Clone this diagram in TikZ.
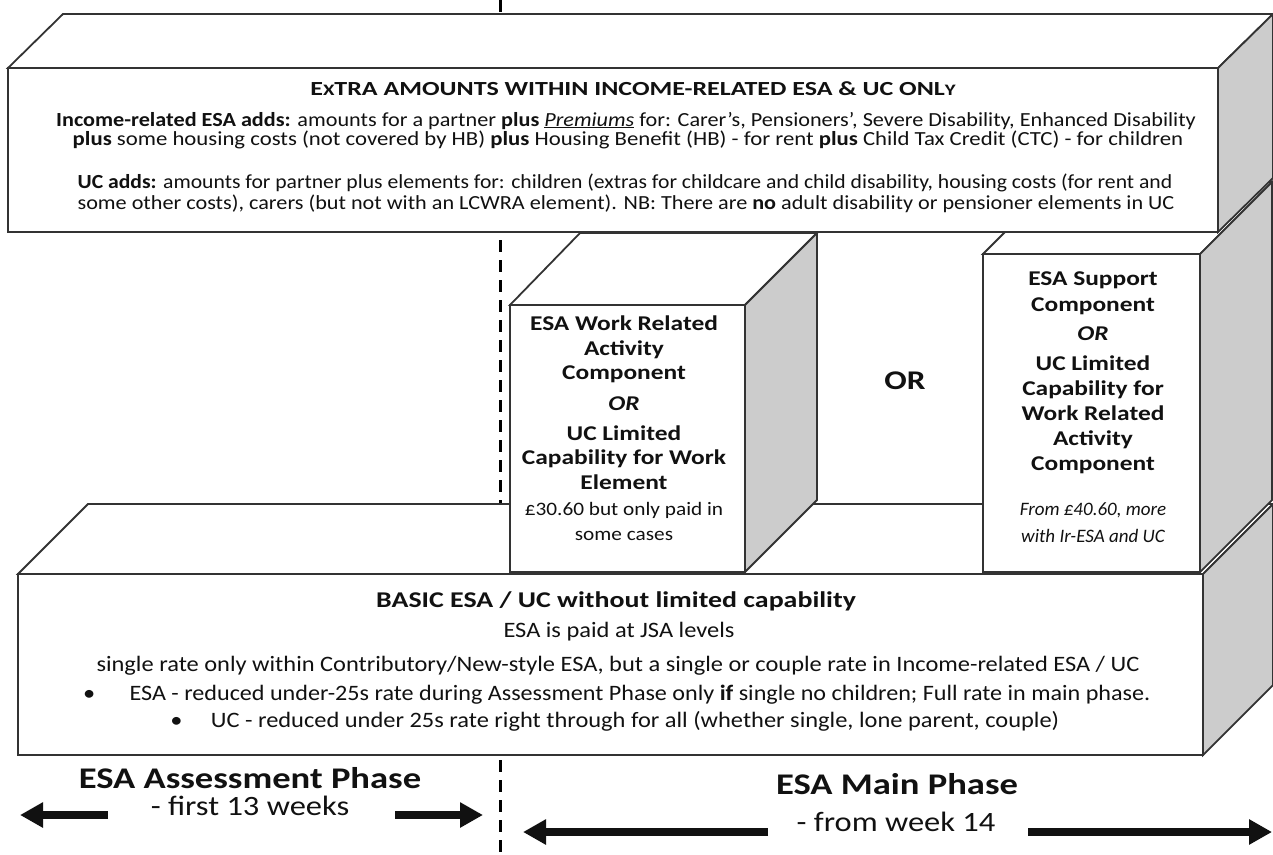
\documentclass[tikz,border=0pt]{standalone}
\usepackage{fontspec}
\setmainfont{Carlito}
\newfontfamily\fontBody{Carlito}[FakeStretch=1.11]
\newfontfamily\fontHead{Carlito}[FakeStretch=1.30]
\newfontfamily\fontBoxB{Carlito}[FakeStretch=1.21]
\newfontfamily\fontNote{Carlito}[FakeStretch=1.12]
\newfontfamily\fontItal{Carlito}[FakeStretch=1.00]
\newfontfamily\fontOr{Carlito}[FakeStretch=1.23]
\newfontfamily\fontBasic{Carlito}[FakeStretch=1.24]
\newfontfamily\fontBig{Carlito}[FakeStretch=1.22]
\newfontfamily\fontBigR{Carlito}[FakeStretch=1.16]
\usepackage{graphicx}
\usetikzlibrary{arrows.meta}
\definecolor{edge}{HTML}{333333}
\definecolor{sidegray}{HTML}{CCCCCC}
\definecolor{ink}{HTML}{111111}
\begin{document}
\begin{tikzpicture}[x=1pt,y=-1pt,
  face/.style={draw=edge, line width=1.8pt, fill=white, line join=miter},
  sideface/.style={draw=edge, line width=1.8pt, fill=sidegray, line join=miter},
  phaseline/.style={draw=black, dash pattern=on 12pt off 8pt, line width=3pt},
  bigarrow/.style={-{Triangle[length=23pt,width=24pt]}, line width=8pt, draw=ink},
  t/.style={inner sep=0pt, anchor=base, text=ink},
  topt/.style={t, font=\fontBody\fontsize{20}{24}\selectfont},
  hdrt/.style={t, font=\fontHead\fontsize{20}{24}\selectfont\bfseries},
  boxb/.style={t, font=\fontBoxB\fontsize{21}{25}\selectfont\bfseries},
  boxbi/.style={t, font=\fontBoxB\fontsize{21}{25}\selectfont\bfseries\itshape},
  boxs/.style={t, font=\fontNote\fontsize{19}{23}\selectfont},
  boxi/.style={t, font=\fontItal\fontsize{19}{23}\selectfont\itshape},
  bott/.style={t, font=\fontBody\fontsize{22}{26}\selectfont},
  basict/.style={t, font=\fontBasic\fontsize{22.5}{26}\selectfont\bfseries},
  bigb/.style={t, font=\fontBig\fontsize{30}{34}\selectfont\bfseries},
  bigr/.style={t, font=\fontBigR\fontsize{28}{32}\selectfont},
  ormid/.style={t, font=\fontOr\fontsize{27}{30}\selectfont\bfseries}
]
\useasboundingbox (0,0) rectangle (1273,854);
% phase divider
\coordinate (dtop) at (500,0);
\coordinate (dbot) at (500,854);
\draw[phaseline] (dtop) -- (dbot);

% bottom box
\draw[face] (18,574) -- (88,504) -- (1273,504) -- (1203,574) -- cycle;
\draw[sideface] (1203,574) -- (1273,504) -- (1273,685) -- (1203,755) -- cycle;
\draw[face] (18,574) rectangle (1203,755);

% WRAC box
\draw[face] (510,305) -- (580,233) -- (817,233) -- (745,305) -- cycle;
\draw[sideface] (745,305) -- (817,233) -- (817,500) -- (745,572) -- cycle;
\draw[face] (510,305) rectangle (745,572);

% Support box
\draw[face] (983,254) -- (1055,182) -- (1272,182) -- (1200,254) -- cycle;
\draw[sideface] (1200,254) -- (1272,182) -- (1272,500) -- (1200,572) -- cycle;
\draw[face] (983,254) rectangle (1200,572);

% top box
\draw[face] (8,68) -- (63,14) -- (1273,14) -- (1218,68) -- cycle;
\draw[sideface] (1218,68) -- (1273,14) -- (1273,178) -- (1218,232) -- cycle;
\draw[face] (8,68) rectangle (1218,232);

% top box text
\node[hdrt] (hdr) at (633,95) {E\scalebox{0.8}{X}TRA AMOUNTS WITHIN INCOME-RELATED ESA \& UC ONL\scalebox{0.8}{Y}};
\node[topt] (ir1) at (626,126) {\textbf{Income-related ESA adds:} amounts for a partner \textbf{plus} \underline{\textit{Premiums}} for: Carer’s, Pensioners’, Severe Disability, Enhanced Disability};
\node[topt] (ir2) at (628,145) {\scalebox{1.025}[1]{\textbf{plus} some housing costs (not covered by HB) \textbf{plus} Housing Benefit (HB) - for rent \textbf{plus} Child Tax Credit (CTC) - for children}};
\node[topt] (uc1) at (625,188) {\scalebox{0.975}[1]{\textbf{UC adds:} amounts for partner plus elements for: children (extras for childcare and child disability, housing costs (for rent and}};
\node[topt] (uc2) at (626,209) {some other costs), carers (but not with an LCWRA element). NB: There are \textbf{no} adult disability or pensioner elements in UC};

% WRAC text
\node[boxb] (w1) at (624,330) {ESA Work Related};
\node[boxb] (w2) at (624,355) {Activity};
\node[boxb] (w3) at (624,379) {Component};
\node[boxbi] (w4) at (624,410) {OR};
\node[boxb] (w5) at (624,440) {UC Limited};
\node[boxb] (w6) at (624,464) {Capability for Work};
\node[boxb] (w7) at (624,489) {Element};
\node[boxs] (w8) at (624,515) {£30.60 but only paid in};
\node[boxs] (w9) at (624,540) {some cases};

% OR between
\node[ormid] (ormid) at (905,389) {OR};

% Support text
\node[boxb] (s1) at (1093,285) {ESA Support};
\node[boxb] (s2) at (1093,311) {Component};
\node[boxbi] (s3) at (1093,340) {OR};
\node[boxb] (s4) at (1093,370) {UC Limited};
\node[boxb] (s5) at (1093,395) {Capability for};
\node[boxb] (s6) at (1093,420) {Work Related};
\node[boxb] (s7) at (1093,445) {Activity};
\node[boxb] (s8) at (1093,470) {Component};
\node[boxi] (s9) at (1093,515) {From £40.60, more};
\node[boxi] (s10) at (1093,542) {with Ir-ESA and UC};

% bottom box text
\node[basict] (bas) at (616,607) {BASIC ESA / UC without limited capability};
\node[bott] (jsa) at (619,637) {ESA is paid at JSA levels};
\node[bott] (single) at (618,671) {single rate only within Contributory/New-style ESA, but a single or couple rate in Income-related ESA / UC};
\node[bott] (bl1) at (640,700) {\scalebox{0.988}[1]{ESA - reduced under-25s rate during Assessment Phase only \textbf{if} single no children; Full rate in main phase.}};
\node[bott, anchor=base east] (bd1) at ([xshift=-34pt]bl1.base west) {\textbullet};
\node[bott] (bl2) at (635,727) {UC - reduced under 25s rate right through for all (whether single, lone parent, couple)};
\node[bott, anchor=base east] (bd2) at ([xshift=-28pt]bl2.base west) {\textbullet};

% phase labels
\node[bigb] (ap) at (250,788) {ESA Assessment Phase};
\node[bigr] (apw) at (250,815) {- first 13 weeks};
\node[bigb] (mp) at (897,794) {ESA Main Phase};
\node[bigr] (mpw) at (896,831) {- from week 14};

% arrows
\coordinate (a1s) at (108,815); \coordinate (a1t) at (20,815);
\coordinate (a2s) at (395,815); \coordinate (a2t) at (483,815);
\coordinate (a3s) at (768,832); \coordinate (a3t) at (523,832);
\coordinate (a4s) at (1028,832); \coordinate (a4t) at (1272,832);
\draw[bigarrow] (a1s) -- (a1t);
\draw[bigarrow] (a2s) -- (a2t);
\draw[bigarrow] (a3s) -- (a3t);
\draw[bigarrow] (a4s) -- (a4t);
\end{tikzpicture}
\end{document}
